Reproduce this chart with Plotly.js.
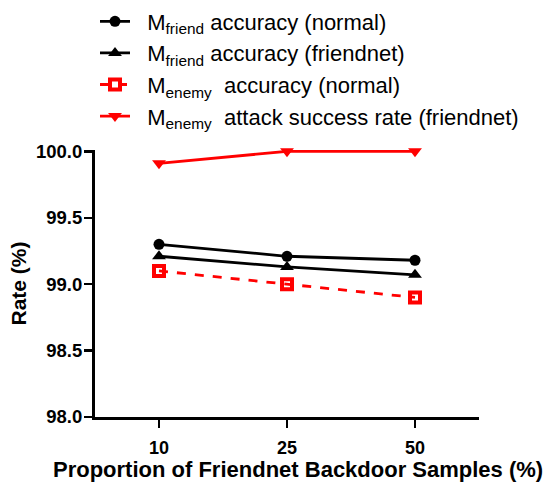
<!DOCTYPE html>
<html><head><meta charset="utf-8">
<script src="https://cdn.plot.ly/plotly-3.0.1.min.js"></script>
<style>html,body{margin:0;padding:0;background:#fff;}</style>
</head><body><div id="chart" style="width:546px;height:483px;"></div>
<script>
var categories = ["10", "25", "50"];
var friendNormal = [99.30, 99.21, 99.18];
var friendFriendnet = [99.21, 99.13, 99.07];
var enemyNormal = [99.10, 99.00, 98.90];
var enemyAttack = [99.91, 100.0, 100.0];
var seriesNames = [
  "M<sub>friend</sub> accuracy (normal)",
  "M<sub>friend</sub> accuracy (friendnet)",
  "M<sub>enemy</sub>  accuracy (normal)",
  "M<sub>enemy</sub>  attack success rate (friendnet)"
];
var xTitle = "Proportion of Friendnet Backdoor Samples (%)";
var yTitle = "Rate (%)";
var FONT = "Liberation Sans, Arial, sans-serif";
var PAD = "\u00A0\u00A0";
var traces = [
  {x: categories, y: friendNormal, name: PAD + seriesNames[0], type: "scatter", mode: "lines+markers", cliponaxis: false,
   line: {color: "#000", width: 2.8}, marker: {symbol: "circle", size: 11, color: "#000"}, legendgroup: "a"},
  {x: categories, y: friendFriendnet, name: PAD + seriesNames[1], type: "scatter", mode: "lines+markers", cliponaxis: false,
   line: {color: "#000", width: 2.8}, marker: {symbol: "triangle-up", size: 12, color: "#000"}, legendgroup: "b"},
  {x: categories, y: enemyNormal, name: PAD + seriesNames[2], type: "scatter", mode: "lines+markers", cliponaxis: false,
   line: {color: "#ff0000", width: 2.8, dash: "dash"}, marker: {symbol: "square-open", size: 10, color: "#ff0000", line: {width: 4, color: "#ff0000"}}, legendgroup: "c"},
  {x: categories, y: enemyAttack, name: PAD + seriesNames[3], type: "scatter", mode: "lines+markers", cliponaxis: false,
   line: {color: "#ff0000", width: 2.8}, marker: {symbol: "triangle-down", size: 12, color: "#ff0000"}, legendgroup: "d"}
];
var layout = {
  width: 546, height: 483,
  margin: {l: 95, r: 67, t: 150, b: 66, autoexpand: false},
  paper_bgcolor: "#fff", plot_bgcolor: "#fff",
  font: {family: FONT, color: "#000"},
  showlegend: true,
  legend: {x: 0.0, y: 1.56, xanchor: "left", yanchor: "top", font: {family: FONT, size: 22, color: "#000"},
           traceorder: "grouped", tracegroupgap: 0, itemwidth: 30, bgcolor: "rgba(0,0,0,0)"},
  xaxis: {type: "category", range: [-0.5, 2.5], showline: true, linecolor: "#000", linewidth: 3,
          ticks: "outside", ticklen: 8, tickwidth: 2.5, tickcolor: "#000", showgrid: false, zeroline: false,
          ticklabelstandoff: 4,
          tickfont: {family: FONT, size: 18, weight: "bold"}},
  yaxis: {range: [98, 100.01], tickvals: [98, 98.5, 99, 99.5, 100], tickformat: ".1f", showline: true, linecolor: "#000", linewidth: 3,
          ticks: "outside", ticklen: 8, tickwidth: 2.5, tickcolor: "#000", showgrid: false, zeroline: false,
          ticklabelstandoff: -2,
          tickfont: {family: FONT, size: 18.5, weight: "bold"},
          title: {text: yTitle, font: {family: FONT, size: 21, weight: "bold"}, standoff: 4}},
  annotations: [
    {text: xTitle, xref: "paper", yref: "paper", x: 0.529, y: -0.197, xanchor: "center", yanchor: "middle",
     showarrow: false, font: {family: FONT, size: 22, weight: "bold", color: "#000"}}
  ]
};
Plotly.newPlot("chart", traces, layout, {displayModeBar: false, staticPlot: true});
</script></body></html>
